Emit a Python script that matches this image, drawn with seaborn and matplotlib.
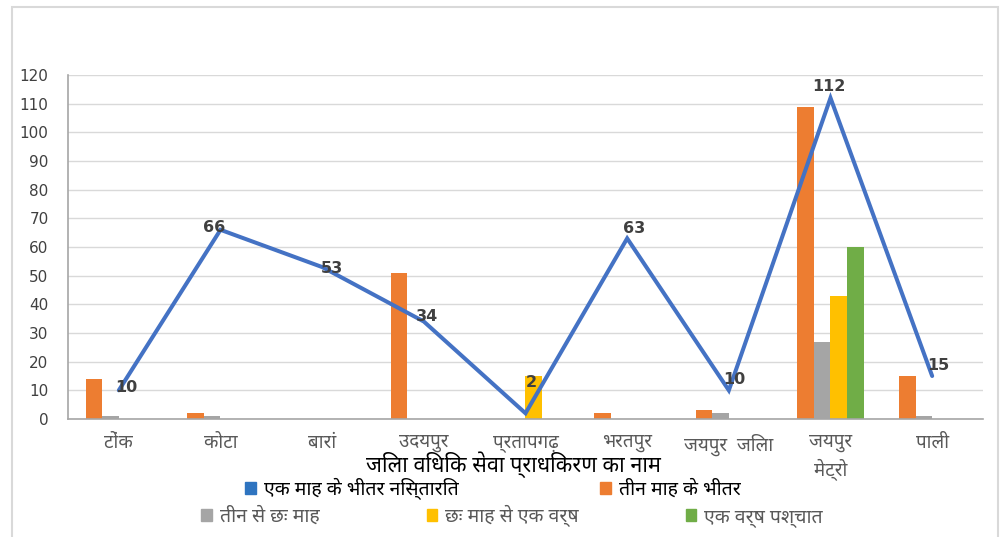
import numpy as np
import pandas as pd
import matplotlib
matplotlib.use("Agg")
import matplotlib.pyplot as plt
import seaborn as sns
from matplotlib import font_manager, ft2font
from matplotlib.patches import Rectangle, Patch

# ---------------- data ----------------
districts = ["टोंक", "कोटा", "बारां", "उदयपुर", "प्रतापगढ़", "भरतपुर",
             "जयपुर  जिला", "जयपुर\nमेट्रो", "पाली"]
line_name = "एक माह के भीतर निस्तारित"
line_vals = [10, 66, 53, 34, 2, 63, 10, 112, 15]
bar_names = ["तीन माह के भीतर", "तीन से छः माह", "छः माह से एक वर्ष", "एक वर्ष पश्चात"]
within_3m = [14, 2, 0, 51, 0, 2, 3, 109, 15]
three_to_6m = [1, 1, 0, 0, 0, 0, 2, 27, 1]
six_to_12m = [0, 0, 0, 0, 15, 0, 0, 43, 0]
after_1y = [0, 0, 0, 0, 0, 0, 0, 60, 0]
y_ticks = list(range(0, 121, 10))
x_title = "जिला विधिक सेवा प्राधिकरण का नाम"

# label offsets (pixels) for the line data labels
label_dx = [7, -6, 10, 3, 6, 7, 5, -2, 6]
label_dy = [3, 2, -1, 5, 31, 10, 11, 11, 10]

# ---------------- fonts ----------------
deva = None
preferred = ["Noto Sans Devanagari", "Lohit Devanagari", "Mukta", "FreeSans", "Mangal", "Nirmala UI"]
cands = []
for f in font_manager.fontManager.ttflist:
    try:
        cm = ft2font.FT2Font(f.fname).get_charmap()
        if 0x0915 in cm:
            cands.append(f.name)
    except Exception:
        pass
for p in preferred:
    if p in cands:
        deva = p
        break
if deva is None and cands:
    deva = cands[0]

sns.set_theme(style="white")
fams = ([deva] if deva else []) + ["DejaVu Sans"]
plt.rcParams["font.family"] = fams

# ---------------- figure ----------------
W, H = 1004, 537
fig = plt.figure(figsize=(W / 100, H / 100), dpi=100)
fig.patch.set_facecolor("white")
L, R, T, B = 68, 983, 75, 419
ax = fig.add_axes([L / W, 1 - B / H, (R - L) / W, (B - T) / H])

df = pd.DataFrame({
    "district": [d for d in districts for _ in bar_names],
    "series": [s for _ in districts for s in bar_names],
    "value": [v for i in range(len(districts))
              for v in (within_3m[i], three_to_6m[i], six_to_12m[i], after_1y[i])],
})
bar_colors = ["#ED7D31", "#A5A5A5", "#FFC000", "#70AD47"]
sns.barplot(data=df, x="district", y="value", hue="series", order=districts,
            hue_order=bar_names, palette=bar_colors, width=0.65, linewidth=0,
            saturation=1, ax=ax, legend=False, errorbar=None)

xs = np.arange(len(districts))
sns.lineplot(x=xs, y=line_vals, ax=ax, color="#4472C4", lw=2.9, legend=False,
             solid_capstyle="round", solid_joinstyle="miter")

for i, v in enumerate(line_vals):
    ax.annotate(str(v), (xs[i], v), xytext=(label_dx[i] * 0.72, label_dy[i] * 0.72),
                textcoords="offset points", ha="center", va="center",
                fontsize=11.5, fontweight="bold", color="#404040",
                family=["DejaVu Sans"])

ax.set_xlim(-0.5, len(districts) - 0.5)
ax.set_ylim(0, 120)
ax.set_yticks(y_ticks)
ax.set_yticklabels([str(t) for t in y_ticks], fontsize=11, color="#404040",
                   family=["DejaVu Sans"])
ax.set_xticks(xs)
ax.set_xticklabels(districts, fontsize=13.5, color="#595959", linespacing=1.45)
ax.tick_params(axis="y", length=0, pad=14)
ax.tick_params(axis="x", length=0, pad=10.5)
ax.set_xlabel("")
ax.set_ylabel("")
ax.grid(axis="y", color="#D9D9D9", lw=1)
ax.set_axisbelow(True)
for s in ["top", "right"]:
    ax.spines[s].set_visible(False)
for s in ["left", "bottom"]:
    ax.spines[s].set_color("#A6A6A6")
    ax.spines[s].set_linewidth(1.2)

fig.text(513 / W, 1 - 465 / H, x_title, ha="center", va="center",
         fontsize=15.5, color="black")

# legends
FS = 14
h1 = [Patch(color="#2E74C0"), Patch(color=bar_colors[0])]
leg1 = fig.legend(h1, [line_name, bar_names[0]], ncol=2, loc="center",
                  bbox_to_anchor=(493 / W, 1 - 489 / H), frameon=False,
                  fontsize=FS, handlelength=0.55, handleheight=0.55,
                  handletextpad=0.4, columnspacing=7.3)
for t in leg1.get_texts():
    t.set_color("black")
h2 = [Patch(color=c) for c in bar_colors[1:]]
leg2 = fig.legend(h2, bar_names[1:], ncol=3, loc="center",
                  bbox_to_anchor=(512 / W, 1 - 516 / H), frameon=False,
                  fontsize=FS, handlelength=0.55, handleheight=0.55,
                  handletextpad=0.4, columnspacing=5.5)
for t in leg2.get_texts():
    t.set_color("#595959")

fig.patches.append(Rectangle((12 / W, -0.05), (998 - 12) / W, 1.05 - 7 / H,
                             transform=fig.transFigure, fill=False,
                             ec="#D9D9D9", lw=1.5))

fig.savefig("out.png", dpi=100)
